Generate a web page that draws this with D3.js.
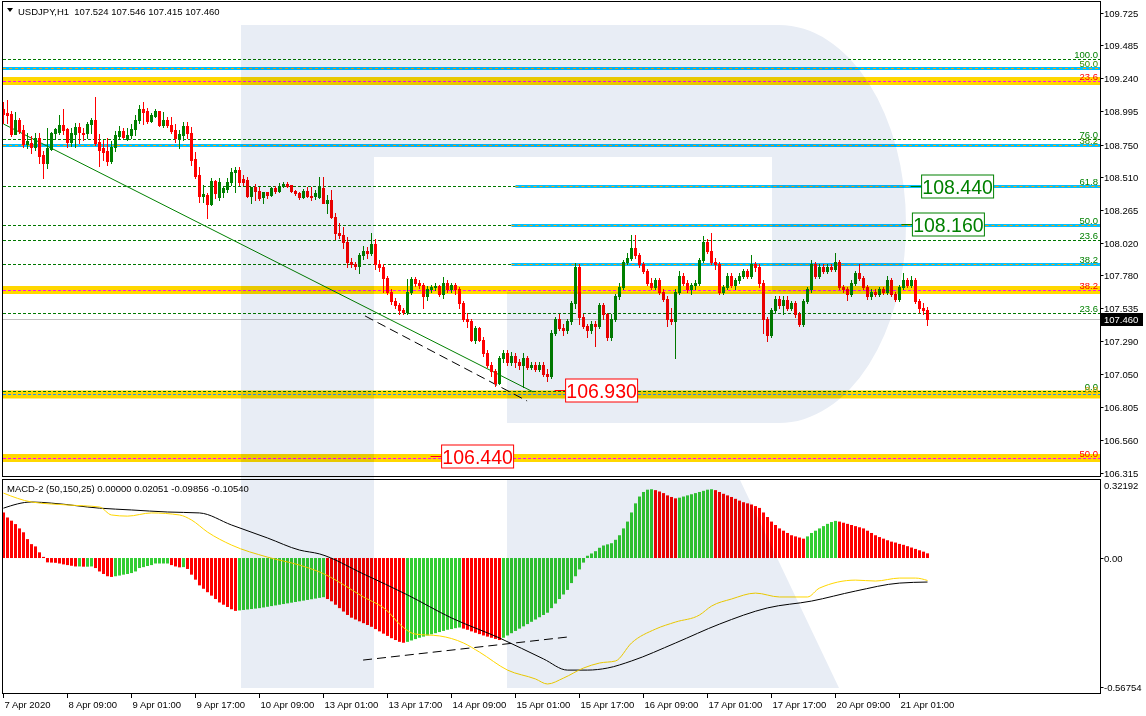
<!DOCTYPE html>
<html><head><meta charset="utf-8">
<script src="https://cdn.jsdelivr.net/npm/d3@7"></script>
<style>body{margin:0;background:#fff;overflow:hidden}svg text{font-family:"Liberation Sans",Arial,sans-serif}</style>
</head><body><svg id="c" width="1146" height="716"></svg>
<script>
// ---------- DATA ----------
const opens = [109.013,108.983,108.976,108.828,108.932,108.855,108.751,108.759,108.731,108.796,108.672,108.613,108.717,108.833,108.845,108.894,108.865,108.771,108.830,108.882,108.838,108.833,108.899,108.932,108.766,108.726,108.702,108.628,108.734,108.813,108.850,108.791,108.820,108.862,108.932,109.013,108.998,108.927,108.964,108.998,108.894,108.932,108.894,108.857,108.801,108.820,108.887,108.833,108.642,108.524,108.371,108.376,108.309,108.479,108.363,108.395,108.420,108.470,108.544,108.561,108.494,108.487,108.368,108.432,108.408,108.358,108.395,108.375,108.427,108.408,108.442,108.457,108.447,108.403,108.393,108.358,108.405,108.371,108.371,108.358,108.430,108.319,108.338,108.215,108.091,
108.079,108.031,107.879,107.862,107.852,107.929,107.963,107.946,108.014,107.862,
107.845,107.760,107.659,107.592,107.558,107.524,107.507,107.659,107.754,107.727,
107.710,107.625,107.676,107.693,107.700,107.642,107.727,107.676,107.710,107.676,
107.575,107.456,107.440,107.304,107.389,107.304,107.203,107.119,107.068,106.983,
107.169,107.203,107.135,107.186,107.135,107.119,107.169,107.102,107.119,107.085,
107.119,107.051,107.034,107.355,107.456,107.389,107.372,107.440,107.575,107.845,
107.473,107.406,107.372,107.423,107.406,107.558,107.490,107.321,107.456,107.625,
107.693,107.879,107.912,107.980,107.929,107.862,107.811,107.727,107.693,107.744,
107.659,107.608,107.456,107.440,107.659,107.777,107.727,107.676,107.710,107.727,
107.896,108.031,107.963,107.879,107.862,107.659,107.693,107.777,107.710,107.744,
107.777,107.811,107.777,107.862,107.845,107.727,107.456,107.338,107.524,107.608,
107.558,107.600,107.541,107.575,107.490,107.416,107.592,107.676,107.862,107.777,
107.845,107.811,107.845,107.828,107.879,107.693,107.676,107.642,107.727,107.794,
107.760,107.693,107.625,107.659,107.642,107.676,107.659,107.744,107.642,107.608,
107.693,107.744,107.710,107.744,107.592,107.541,107.524];
const highs = [109.067,109.080,108.998,108.988,108.944,108.894,108.838,108.813,108.833,108.833,108.704,108.870,108.845,108.875,108.969,109.011,108.875,108.875,108.907,108.907,108.870,108.919,108.944,109.100,108.828,108.783,108.801,108.776,108.850,108.887,108.875,108.875,108.899,108.969,109.043,109.067,109.018,108.981,109.013,108.998,108.993,108.956,108.956,108.899,108.857,108.919,108.919,108.882,108.697,108.586,108.450,108.388,108.499,108.487,108.504,108.437,108.499,108.578,108.586,108.586,108.524,108.511,108.437,108.457,108.437,108.400,108.400,108.432,108.442,108.462,108.469,108.469,108.450,108.413,108.400,108.418,108.437,108.432,108.413,108.511,108.511,108.375,108.413,108.240,108.165,
108.140,108.064,107.912,107.880,107.946,107.997,107.990,108.092,108.048,107.896,
107.862,107.777,107.676,107.610,107.575,107.541,107.754,107.767,107.767,107.744,
107.727,107.700,107.710,107.727,107.710,107.767,107.744,107.727,107.727,107.693,
107.592,107.500,107.456,107.406,107.400,107.321,107.230,107.135,107.085,107.186,
107.230,107.230,107.210,107.203,107.160,107.203,107.186,107.140,107.135,107.135,
107.135,107.085,107.372,107.473,107.490,107.423,107.456,107.592,107.869,107.862,
107.490,107.423,107.440,107.440,107.575,107.575,107.500,107.490,107.642,107.727,
107.896,107.946,108.081,108.081,107.946,107.880,107.828,107.760,107.760,107.760,
107.676,107.625,107.541,107.676,107.811,107.794,107.744,107.727,107.744,107.912,
108.071,108.048,108.092,107.912,107.879,107.710,107.794,107.794,107.760,107.794,
107.828,107.828,107.929,107.879,107.862,107.744,107.473,107.541,107.625,107.625,
107.625,107.625,107.592,107.592,107.507,107.608,107.693,107.896,107.879,107.862,
107.862,107.862,107.862,107.946,107.896,107.710,107.693,107.744,107.811,107.862,
107.777,107.710,107.676,107.676,107.693,107.693,107.777,107.760,107.659,107.710,
107.794,107.760,107.777,107.760,107.608,107.575,107.546];
const lows = [108.907,108.907,108.815,108.825,108.833,108.734,108.722,108.689,108.709,108.610,108.499,108.578,108.709,108.796,108.825,108.825,108.734,108.739,108.734,108.759,108.783,108.796,108.833,108.746,108.593,108.635,108.598,108.610,108.702,108.796,108.796,108.783,108.801,108.820,108.907,108.899,108.907,108.919,108.956,108.890,108.882,108.882,108.833,108.766,108.722,108.783,108.796,108.598,108.499,108.326,108.321,108.203,108.301,108.351,108.339,108.363,108.395,108.450,108.400,108.450,108.450,108.363,108.319,108.338,108.338,108.319,108.351,108.368,108.393,108.400,108.437,108.437,108.400,108.375,108.343,108.351,108.363,108.338,108.343,108.351,108.314,108.245,108.203,108.047,108.054,
107.980,107.845,107.845,107.830,107.794,107.900,107.912,107.929,107.828,107.811,
107.659,107.642,107.565,107.541,107.497,107.490,107.490,107.642,107.700,107.690,
107.541,107.600,107.659,107.670,107.625,107.610,107.659,107.659,107.642,107.541,
107.440,107.400,107.290,107.280,107.290,107.186,107.100,107.034,106.960,106.975,
107.135,107.119,107.119,107.100,107.085,106.950,107.085,107.085,107.068,107.068,
107.034,107.000,107.017,107.338,107.372,107.338,107.355,107.423,107.541,107.420,
107.389,107.321,107.355,107.254,107.389,107.456,107.300,107.304,107.440,107.608,
107.676,107.862,107.896,107.912,107.845,107.794,107.710,107.676,107.676,107.642,
107.592,107.406,107.423,107.169,107.642,107.710,107.659,107.642,107.676,107.710,
107.879,107.946,107.862,107.828,107.642,107.642,107.676,107.693,107.676,107.727,
107.760,107.760,107.760,107.811,107.693,107.355,107.294,107.321,107.507,107.541,
107.490,107.524,107.524,107.473,107.406,107.406,107.575,107.659,107.760,107.760,
107.794,107.794,107.811,107.811,107.676,107.659,107.598,107.625,107.710,107.744,
107.676,107.608,107.608,107.625,107.625,107.642,107.642,107.625,107.592,107.592,
107.676,107.693,107.693,107.575,107.507,107.490,107.415];
const closes = [108.974,108.971,108.828,108.932,108.852,108.751,108.776,108.731,108.796,108.667,108.613,108.722,108.838,108.862,108.894,108.857,108.771,108.833,108.882,108.840,108.830,108.899,108.932,108.759,108.709,108.697,108.630,108.734,108.820,108.850,108.808,108.820,108.865,108.932,109.013,108.993,108.927,108.969,108.998,108.894,108.932,108.894,108.850,108.801,108.825,108.887,108.833,108.635,108.519,108.371,108.381,108.311,108.479,108.388,108.470,108.425,108.470,108.544,108.561,108.475,108.474,108.368,108.432,108.408,108.351,108.395,108.375,108.427,108.408,108.442,108.457,108.442,108.408,108.388,108.358,108.405,108.371,108.363,108.388,108.437,108.319,108.338,108.210,108.091,108.079,
108.031,107.879,107.862,107.852,107.929,107.963,107.946,108.014,107.862,107.845,
107.760,107.659,107.592,107.558,107.524,107.507,107.659,107.754,107.727,107.710,
107.625,107.676,107.693,107.700,107.642,107.727,107.676,107.710,107.676,107.575,
107.456,107.440,107.304,107.389,107.304,107.203,107.119,107.068,106.983,107.169,
107.203,107.135,107.186,107.135,107.119,107.169,107.102,107.119,107.085,107.119,
107.051,107.034,107.355,107.456,107.389,107.372,107.440,107.575,107.845,107.473,
107.406,107.372,107.423,107.406,107.558,107.490,107.321,107.456,107.625,107.693,
107.879,107.912,107.980,107.929,107.862,107.811,107.727,107.693,107.744,107.659,
107.608,107.456,107.440,107.659,107.777,107.727,107.676,107.710,107.727,107.896,
108.031,107.963,107.879,107.862,107.659,107.693,107.777,107.710,107.744,107.777,
107.811,107.777,107.862,107.845,107.727,107.456,107.338,107.524,107.608,107.558,
107.600,107.541,107.575,107.490,107.416,107.592,107.676,107.862,107.777,107.845,
107.811,107.845,107.828,107.879,107.693,107.676,107.642,107.727,107.794,107.760,
107.693,107.625,107.659,107.642,107.676,107.659,107.744,107.642,107.608,107.693,
107.744,107.710,107.744,107.592,107.541,107.524,107.460];

const macdHist = [0.200,0.178,0.164,0.149,0.130,0.113,0.083,0.061,0.051,0.025,0.005,-0.019,-0.020,-0.021,-0.024,-0.028,-0.031,-0.034,-0.037,-0.037,-0.038,-0.038,-0.037,-0.044,-0.059,-0.070,-0.080,-0.083,-0.080,-0.077,-0.073,-0.070,-0.066,-0.059,-0.044,-0.040,-0.035,-0.031,-0.024,-0.024,-0.024,-0.024,-0.031,-0.037,-0.041,-0.040,-0.048,-0.073,-0.095,
-0.120,-0.135,-0.150,-0.165,-0.180,-0.195,-0.205,-0.215,-0.225,-0.232,-0.230,-0.228,-0.226,-0.224,-0.222,-0.220,-0.217,-0.214,-0.211,-0.208,-0.205,-0.202,-0.199,-0.196,-0.193,-0.190,-0.187,-0.184,-0.181,-0.178,-0.175,-0.172,-0.180,-0.190,-0.205,-0.220,-0.235,-0.250,-0.262,-0.270,-0.278,-0.286,-0.294,-0.302,-0.312,-0.322,-0.332,-0.342,-0.352,-0.360,-0.368,-0.372,-0.368,-0.362,-0.356,-0.350,-0.345,-0.340,-0.335,-0.330,-0.325,-0.320,-0.315,-0.312,-0.308,-0.305,-0.310,-0.315,-0.322,-0.328,-0.334,-0.340,-0.345,-0.350,-0.355,-0.360,-0.350,-0.340,-0.330,-0.320,-0.310,-0.300,-0.290,-0.280,-0.270,-0.260,-0.250,-0.240,-0.220,-0.200,-0.180,-0.160,-0.140,-0.110,-0.080,-0.050,-0.020,0.010,0.020,0.030,0.045,0.055,0.060,0.065,0.080,0.100,0.130,0.160,0.200,0.240,0.270,0.290,0.300,0.302,0.298,0.292,0.285,0.275,0.268,0.262,0.265,0.270,0.275,0.280,0.285,0.290,0.295,0.300,0.302,0.298,0.290,0.282,0.275,0.268,0.260,0.252,0.245,0.240,0.235,0.228,0.220,0.200,0.180,0.160,0.145,0.130,0.120,0.110,0.100,0.095,0.090,0.085,0.095,0.110,0.120,0.130,0.140,0.150,0.158,0.163,0.160,0.155,0.150,0.145,0.140,0.135,0.130,0.120,0.110,0.100,0.092,0.085,0.078,0.072,0.068,0.062,0.058,0.052,0.046,0.040,0.034,0.028,0.0205];

// MACD lines: [bar index, value]
const macdBlack = [[0,0.219],[7,0.246],[12,0.241],[24,0.219],[32,0.211],[41,0.202],[49,0.198],[57,0.145],[66,0.088],[74,0.035],[79,0.018],[90,-0.070],[101,-0.162],[112,-0.263],[124,-0.351],[135,-0.443],[141,-0.492],[146,-0.492],[151,-0.483],[157,-0.452],[168,-0.373],[179,-0.290],[191,-0.219],[202,-0.189],[213,-0.145],[224,-0.110],[231,-0.1054]];
const macdYellow = [[0,0.285],[7,0.246],[16,0.233],[24,0.224],[27,0.189],[31,0.184],[37,0.198],[44,0.189],[47,0.167],[51,0.114],[57,0.057],[66,0.004],[74,-0.031],[79,-0.061],[90,-0.171],[96,-0.233],[99,-0.290],[103,-0.334],[109,-0.342],[115,-0.373],[119,-0.413],[126,-0.492],[133,-0.531],[136,-0.553],[140,-0.527],[145,-0.483],[149,-0.461],[153,-0.452],[157,-0.373],[163,-0.312],[168,-0.281],[174,-0.250],[177,-0.211],[182,-0.180],[188,-0.154],[194,-0.171],[201,-0.171],[204,-0.132],[213,-0.097],[218,-0.101],[224,-0.088],[228,-0.088],[231,-0.0986]];

const priceTicks = [109.725,109.485,109.240,108.995,108.750,108.510,108.265,108.020,107.780,107.535,107.290,107.050,106.805,106.560,106.315];
const timeTickIdx = [0,16,32,48,64,80,96,112,128,144,160,176,192,208,224];
const timeTickLabels = ["7 Apr 2020","8 Apr 09:00","9 Apr 01:00","9 Apr 17:00","10 Apr 09:00","13 Apr 01:00","13 Apr 17:00","14 Apr 09:00","15 Apr 01:00","15 Apr 17:00","16 Apr 09:00","17 Apr 01:00","17 Apr 17:00","20 Apr 09:00","21 Apr 01:00"];

// Fibonacci levels
const dashLevels = [109.384,108.791,108.443,108.153,108.042,107.864,107.501,106.923];
const dashLabels = ["100.0","76.0","61.8","50.0","23.6","38.2","23.6","0.0"];
const cyanLevels = [109.317,108.747,108.443,108.153,107.864];
const cyanFrom = [0,0,128,127,127];
const cyanLabels = ["50.0","38.2","","",""];
const bandLevels = [109.221,107.672,106.897,106.426];
const bandLabels = ["23.6","38.2","0.0","50.0"];
const targetValues = [108.440,108.160,106.930,106.440];
const targetIdx = [229.9,227.6,140.9,109.9];
const targetUp = [true,true,false,false];
const trendGreen = [[0,108.902],[132.4,106.916]];
const trendDash = [[90.4,107.479],[130.9,106.849]];
const macdTrend = [[89.9,-0.448],[140.9,-0.347]];
const titleText = "USDJPY,H1\u00a0 107.524 107.546 107.415 107.460";
const macdTitle = "MACD-2 (50,150,25) 0.00000 0.02051 -0.09856 -0.10540";
const lastPrice = 107.460;

// ---------- DRAW ----------
const svg = d3.select("#c");
const RIGHT = 1100.5;
const x = d3.scaleLinear().domain([0,1]).range([3.5,7.5]);
const y = d3.scaleLinear().domain([106.315,109.725]).range([473,13]);
const ym = d3.scaleLinear().domain([-0.56754,0.32192]).range([687.3,484.7]);
const N = closes.length;

svg.append("rect").attr("width",1146).attr("height",716).attr("fill","#fff");
const defs = svg.append("defs");
defs.append("clipPath").attr("id","cm").append("rect").attr("x",3).attr("y",2).attr("width",1097).attr("height",474);
defs.append("clipPath").attr("id","cb").append("rect").attr("x",3).attr("y",480).attr("width",1097).attr("height",213);

const gm = svg.append("g").attr("clip-path","url(#cm)");
const gb = svg.append("g").attr("clip-path","url(#cb)");

// bands
bandLevels.forEach(p=>{
  gm.append("line").attr("x1",3).attr("x2",RIGHT).attr("y1",y(p)).attr("y2",y(p)).attr("stroke","#FFD700").attr("stroke-width",8);
});
// green dashed fib lines
dashLevels.forEach(p=>{
  const yy = Math.round(y(p))+0.5;
  gm.append("line").attr("x1",3).attr("x2",RIGHT).attr("y1",yy).attr("y2",yy).attr("stroke","#007800").attr("stroke-dasharray","3,2");
});
// dashed centre lines in bands
bandLevels.forEach((p,k)=>{
  const yy = Math.round(y(p))+0.5;
  gm.append("line").attr("x1",3).attr("x2",RIGHT).attr("y1",yy).attr("y2",yy)
    .attr("stroke", k===2 ? "#1E90FF" : "#FF00FF").attr("stroke-dasharray","3,2");
});
// cyan lines
cyanLevels.forEach((p,k)=>{
  const yy = Math.round(y(p))+0.5;
  const x1 = cyanFrom[k]===0 ? 3 : x(cyanFrom[k]);
  gm.append("line").attr("x1",x1).attr("x2",RIGHT).attr("y1",yy).attr("y2",yy).attr("stroke","#00BFFF").attr("stroke-width",3);
  gm.append("line").attr("x1",x1).attr("x2",RIGHT).attr("y1",yy).attr("y2",yy).attr("stroke","#FFA500").attr("stroke-dasharray","3,3");
});
// current price line
gm.append("line").attr("x1",3).attr("x2",RIGHT).attr("y1",Math.round(y(lastPrice))+0.5).attr("y2",Math.round(y(lastPrice))+0.5).attr("stroke","#C0C0C0");

// trendlines
const lineP = d3.line().x(d=>x(d[0])).y(d=>y(d[1]));
gm.append("path").attr("d",lineP(trendGreen)).attr("stroke","#008000").attr("fill","none");
gm.append("path").attr("d",lineP(trendDash)).attr("stroke","#000").attr("fill","none").attr("stroke-dasharray","9,5");

// candles
for(let i=0;i<N;i++){
  const o=opens[i], c=closes[i], h=highs[i], l=lows[i];
  const col = c>=o ? "#008000" : "#FF0000";
  const cx = x(i);
  gm.append("line").attr("x1",cx).attr("x2",cx).attr("y1",Math.round(y(h))).attr("y2",Math.round(y(l))+1).attr("stroke",col);
  const t = Math.round(y(Math.max(o,c))), b = Math.round(y(Math.min(o,c)));
  gm.append("rect").attr("x",cx-1.5).attr("y",t).attr("width",3).attr("height",Math.max(1,b-t+1)).attr("fill",col);
}

// MACD histogram
const z = ym(0);
for(let i=0;i<N;i++){
  const v = macdHist[i];
  const up = i===0 ? false : v >= macdHist[i-1];
  const col = up ? "#32CD32" : "#FF0000";
  const yv = ym(v);
  gb.append("rect").attr("x",x(i)-1.5).attr("y",Math.min(yv,z)).attr("width",3).attr("height",Math.max(1,Math.abs(yv-z))).attr("fill",col);
}
const lineM = d3.line().x(d=>x(d[0])).y(d=>ym(d[1])).curve(d3.curveMonotoneX);
gb.append("path").attr("d",lineM(macdBlack)).attr("stroke","#000").attr("fill","none");
gb.append("path").attr("d",lineM(macdYellow)).attr("stroke","#FFD700").attr("fill","none");
gb.append("path").attr("d",d3.line().x(d=>x(d[0])).y(d=>ym(d[1]))(macdTrend)).attr("stroke","#000").attr("fill","none").attr("stroke-dasharray","9,5");

// watermark (multiply)
const wm = svg.append("g").style("mix-blend-mode","multiply");
const wcol = "#e8edf5";
wm.append("rect").attr("x",241).attr("y",25).attr("width",133).attr("height",663).attr("fill",wcol);
wm.append("path").attr("fill",wcol)
  .attr("d","M374,25 L779,25 A127,199 0 0 1 779,423 L507,423 L507,292 L772,292 L772,157 L374,157 Z");
wm.append("path").attr("fill",wcol).attr("d","M507,480 L740,480 L839,688 L507,688 Z");

// target boxes
targetValues.forEach((v,k)=>{
  const col = targetUp[k] ? "#008000" : "#FF0000";
  const bx = x(targetIdx[k]) - 1.5, yy = Math.round(y(v))+0.5;
  svg.append("line").attr("x1",bx-11).attr("x2",bx).attr("y1",yy).attr("y2",yy).attr("stroke",col);
  svg.append("rect").attr("x",bx).attr("y",yy-11.5).attr("width",72).attr("height",23).attr("fill","#fff").attr("stroke",col);
  svg.append("text").attr("x",bx+36).attr("y",yy+7).attr("text-anchor","middle").attr("font-size",19.5).attr("fill",col).text(v.toFixed(3));
});

// fib labels
const lab = (p,t,col)=> svg.append("text").attr("x",1098).attr("y",Math.round(y(p))-1).attr("text-anchor","end").attr("font-size",9.5).attr("fill",col).text(t);
dashLevels.forEach((p,k)=>lab(p,dashLabels[k],"#008000"));
cyanLevels.forEach((p,k)=>{ if(cyanLabels[k]) lab(p,cyanLabels[k],"#2E8B00"); });
bandLevels.forEach((p,k)=>lab(p,bandLabels[k], k===2 ? "#D2A000" : "#FF0000"));

// frames
svg.append("rect").attr("x",2.5).attr("y",1.5).attr("width",RIGHT-2.5).attr("height",475).attr("fill","none").attr("stroke","#000");
svg.append("rect").attr("x",2.5).attr("y",479.5).attr("width",RIGHT-2.5).attr("height",214).attr("fill","none").attr("stroke","#000");

// price axis
const pa = svg.append("g");
priceTicks.forEach(p=>{
  const yy = Math.round(y(p))+0.5;
  pa.append("line").attr("x1",RIGHT).attr("x2",RIGHT+3).attr("y1",yy).attr("y2",yy).attr("stroke","#000");
  pa.append("text").attr("x",1104).attr("y",yy+3.5).attr("font-size",9.5).attr("fill","#000").text(p.toFixed(3));
});
pa.append("rect").attr("x",1101).attr("y",Math.round(y(lastPrice))-6).attr("width",42).attr("height",13).attr("fill","#000");
pa.append("text").attr("x",1104).attr("y",Math.round(y(lastPrice))+4).attr("font-size",9.5).attr("fill","#fff").text(lastPrice.toFixed(3));

// macd axis
[0.32192,0.00,-0.56754].forEach((v,k)=>{
  const yy = Math.round(ym(v))+0.5;
  if(k>0) pa.append("line").attr("x1",RIGHT).attr("x2",RIGHT+3).attr("y1",yy).attr("y2",yy).attr("stroke","#000");
  pa.append("text").attr("x",1104).attr("y",yy+3.5).attr("font-size",9.5).attr("fill","#000").text(k===1?"0.00":v.toFixed(5));
});

// time axis
timeTickIdx.forEach((i,k)=>{
  const xx = Math.round(x(i))-0.5;
  pa.append("line").attr("x1",xx).attr("x2",xx).attr("y1",694).attr("y2",698).attr("stroke","#000");
  pa.append("text").attr("x",xx+1).attr("y",708).attr("font-size",9.5).attr("fill","#000").text(timeTickLabels[k]);
});

// titles
svg.append("path").attr("d","M7,8 L13,8 L10,12 Z").attr("fill","#000");
svg.append("text").attr("x",18).attr("y",15).attr("font-size",9.5).attr("fill","#000").text(titleText);
svg.append("text").attr("x",7).attr("y",492).attr("font-size",9.5).attr("fill","#000").text(macdTitle);
</script></body></html>
